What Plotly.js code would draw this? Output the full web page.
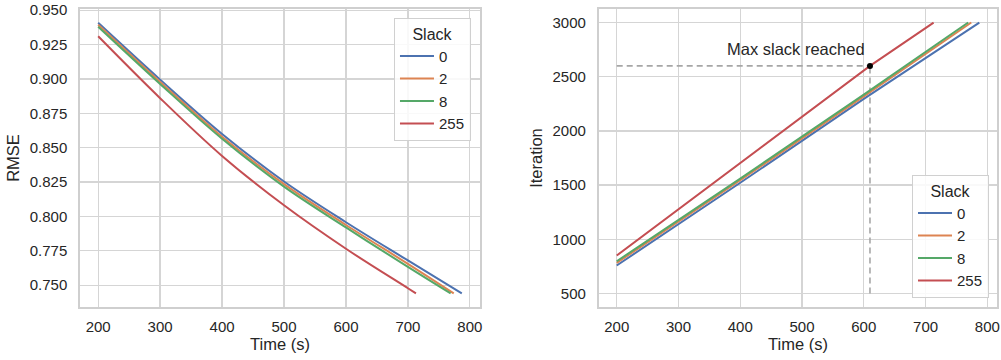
<!DOCTYPE html>
<html>
<head>
<meta charset="utf-8">
<script src="https://cdn.plot.ly/plotly-3.0.1.min.js"></script>
<style>html,body{margin:0;padding:0;background:#fff;}#chart{width:1001px;height:360px;}</style>
</head>
<body>
<div id="chart"></div>
<script>
// ---- Data ----
const slackLabels = ["0", "2", "8", "255"];
const colors = ["#4c72b0", "#dd8452", "#55a868", "#c44e52"];

// Left panel: RMSE vs time
const rmseTime0 = [200, 300, 400, 500, 600, 700, 787];
const rmse0 = [0.9408, 0.8995, 0.8600, 0.8254, 0.7958, 0.7680, 0.7440];
const rmseTime2 = [200, 300, 400, 500, 600, 700, 774];
const rmse2 = [0.9394, 0.8978, 0.8580, 0.8235, 0.7938, 0.7655, 0.7440];
const rmseTime8 = [200, 300, 400, 500, 600, 700, 769];
const rmse8 = [0.9379, 0.8963, 0.8565, 0.8217, 0.7920, 0.7633, 0.7440];
const rmseTime255 = [200, 300, 400, 500, 600, 700, 713];
const rmse255 = [0.9310, 0.8860, 0.8440, 0.8081, 0.7765, 0.7478, 0.7440];

// Right panel: iteration vs time
const iterTime0 = [200, 400, 600, 787];
const iter0 = [758, 1522, 2295, 3000];
const iterTime2 = [200, 400, 600, 774];
const iter2 = [782, 1545, 2318, 3000];
const iterTime8 = [200, 400, 600, 769];
const iter8 = [797, 1560, 2335, 3000];
const iterTime255 = [200, 400, 600, 610, 713];
const iter255 = [850, 1702, 2560, 2600, 3000];

// Max slack reached marker
const maxSlackTime = 610;
const maxSlackIter = 2600;
const refStartTime = 200;
const refBottomIter = 500;
const annotText = "Max slack reached";
const annotX = 491;
const annotY = 2755;

const xTicks = [200, 300, 400, 500, 600, 700, 800];
const rmseTicks = [0.750, 0.775, 0.800, 0.825, 0.850, 0.875, 0.900, 0.925, 0.950];
const iterTicks = [500, 1000, 1500, 2000, 2500, 3000];

// ---- Traces ----
const rmseT = [rmseTime0, rmseTime2, rmseTime8, rmseTime255];
const rmseV = [rmse0, rmse2, rmse8, rmse255];
const iterT = [iterTime0, iterTime2, iterTime8, iterTime255];
const iterV = [iter0, iter2, iter8, iter255];

const traces = [];
for (let i = 0; i < 4; i++) {
  traces.push({
    x: rmseT[i], y: rmseV[i], type: "scatter", mode: "lines",
    name: slackLabels[i], legend: "legend",
    line: {color: colors[i], width: 2, shape: "spline", smoothing: 1},
    xaxis: "x", yaxis: "y", hoverinfo: "skip"
  });
}
// reference dashed lines
traces.push({
  x: [refStartTime, maxSlackTime], y: [maxSlackIter, maxSlackIter],
  type: "scatter", mode: "lines", showlegend: false,
  line: {color: "#a6a6a6", width: 1.6, dash: "6px,4px"},
  xaxis: "x2", yaxis: "y2", hoverinfo: "skip"
});
traces.push({
  x: [maxSlackTime, maxSlackTime], y: [refBottomIter, maxSlackIter],
  type: "scatter", mode: "lines", showlegend: false,
  line: {color: "#a6a6a6", width: 1.6, dash: "6px,4px"},
  xaxis: "x2", yaxis: "y2", hoverinfo: "skip"
});
for (let i = 0; i < 4; i++) {
  traces.push({
    x: iterT[i], y: iterV[i], type: "scatter", mode: "lines",
    name: slackLabels[i], legend: "legend2",
    line: {color: colors[i], width: 2},
    xaxis: "x2", yaxis: "y2", hoverinfo: "skip"
  });
}
traces.push({
  x: [maxSlackTime], y: [maxSlackIter], type: "scatter", mode: "markers",
  showlegend: false, marker: {color: "#000000", size: 6},
  xaxis: "x2", yaxis: "y2", hoverinfo: "skip"
});

const FONT = "Liberation Sans, Arial, sans-serif";
const TXT = "#262626";
const GRID = "#d5d5d5";

function axisBase() {
  return {
    showgrid: true, gridcolor: GRID, gridwidth: 1.3,
    showline: true, linecolor: "#cfcfcf", linewidth: 1.7, mirror: true,
    zeroline: false, ticks: "", tickfont: {family: FONT, size: 15, color: TXT},
    fixedrange: true
  };
}

const legendCommon = {
  bgcolor: "rgba(255,255,255,0.85)", bordercolor: "#d0d0d0", borderwidth: 1,
  font: {family: FONT, size: 15, color: TXT},
  title: {text: "Slack", side: "top center", font: {family: FONT, size: 16, color: TXT}},
  itemwidth: 34, tracegroupgap: 0
};

const layout = {
  width: 1001, height: 360,
  margin: {l: 80, r: 3, t: 9, b: 53},
  paper_bgcolor: "#ffffff", plot_bgcolor: "#ffffff",
  font: {family: FONT, color: TXT},
  showlegend: true,
  xaxis: Object.assign(axisBase(), {
    domain: [0, 0.4357], range: [170.65, 816.35],
    tickvals: xTicks, ticktext: xTicks.map(String), ticklabelstandoff: 5,
    title: {text: "Time (s)", font: {family: FONT, size: 16.5, color: TXT}, standoff: 4}
  }),
  yaxis: Object.assign(axisBase(), {
    domain: [0, 1], range: [0.73415, 0.95085],
    tickvals: rmseTicks, ticktext: rmseTicks.map(v => v.toFixed(3)), ticklabelstandoff: 8,
    title: {text: "RMSE", font: {family: FONT, size: 16.5, color: TXT}, standoff: 6}
  }),
  xaxis2: Object.assign(axisBase(), {
    domain: [0.5649, 0.9994], range: [170.65, 816.35], anchor: "y2",
    tickvals: xTicks, ticktext: xTicks.map(String), ticklabelstandoff: 5,
    title: {text: "Time (s)", font: {family: FONT, size: 16.5, color: TXT}, standoff: 4}
  }),
  yaxis2: Object.assign(axisBase(), {
    domain: [0, 1], range: [375, 3125], anchor: "x2",
    tickvals: iterTicks, ticktext: iterTicks.map(String), ticklabelstandoff: 8,
    title: {text: "Iteration", font: {family: FONT, size: 16.5, color: TXT}, standoff: 6}
  }),
  legend: Object.assign({}, legendCommon, {x: 0.4259, xanchor: "right", y: 0.97, yanchor: "top"}),
  legend2: Object.assign({}, legendCommon, {x: 0.9902, xanchor: "right", y: 0.03, yanchor: "bottom"}),
  annotations: [{
    x: annotX, y: annotY, xref: "x2", yref: "y2", text: annotText, showarrow: false,
    font: {family: FONT, size: 16.5, color: TXT}, xanchor: "center", yanchor: "middle"
  }]
};

Plotly.newPlot("chart", traces, layout, {staticPlot: true, displayModeBar: false});
</script>
</body>
</html>
